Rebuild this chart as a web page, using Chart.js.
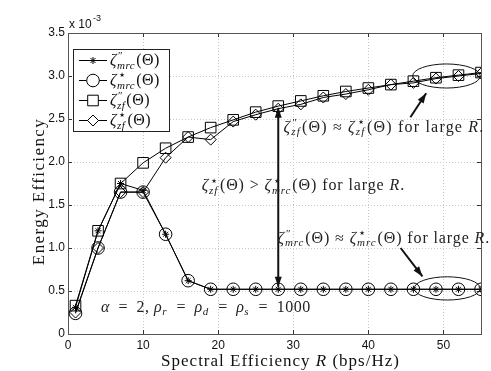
<!DOCTYPE html>
<html>
<head>
<meta charset="utf-8">
<script src="https://cdn.jsdelivr.net/npm/chart.js@4.4.1/dist/chart.umd.min.js"></script>
<style>
  html, body { margin: 0; padding: 0; background: #fff; }
  canvas { display: block; }
</style>
</head>
<body>
<canvas id="eeChart" width="491" height="371"></canvas>
<script>
// Spectral efficiency R (bps/Hz)
const rValues = [1, 4, 7, 10, 13, 16, 19, 22, 25, 28, 31, 34, 37, 40, 43, 46, 49, 52, 55];

// Energy efficiency, in units of 1e-3
const mrcDoublePrime = [0.31, 1.20, 1.75, 1.67, 1.16, 0.62, 0.52, 0.52, 0.52, 0.52, 0.52, 0.52, 0.52, 0.52, 0.52, 0.52, 0.52, 0.52, 0.52];
const mrcStar = [0.24, 1.00, 1.65, 1.65, 1.16, 0.62, 0.52, 0.52, 0.52, 0.52, 0.52, 0.52, 0.52, 0.52, 0.52, 0.52, 0.52, 0.52, 0.52];
const zfDoublePrime = [0.33, 1.20, 1.75, 1.99, 2.16, 2.29, 2.40, 2.49, 2.58, 2.65, 2.71, 2.77, 2.82, 2.86, 2.90, 2.94, 2.98, 3.01, 3.04];
const zfStar = [0.25, 1.00, 1.65, 1.65, 2.05, 2.29, 2.26, 2.47, 2.55, 2.62, 2.67, 2.75, 2.79, 2.84, 2.90, 2.92, 2.97, 3.00, 3.03];

const xTicks = [0, 10, 20, 30, 40, 50];
const yTicks = [0, 0.5, 1, 1.5, 2, 2.5, 3, 3.5];

const SERIF = '"Liberation Serif", "DejaVu Serif", serif';
const SANS = '"Liberation Sans", Arial, sans-serif';

// math-ish label pieces: [text, italic] or {sup, sub}
const zeta = (sup, sub) => [['ζ', true], { sup: sup, sub: sub }, ['(Θ)', false]];
const forLargeR = [[' for large ', false], ['R', true], ['.', false]];
const EQ = '\u2002=\u2002';

const legendLabels = [
    zeta('″', 'mrc'),
    zeta('⋆', 'mrc'),
    zeta('″', 'zf'),
    zeta('⋆', 'zf')
];

const xTitle = [['Spectral Efficiency ', false], ['R', true], [' (bps/Hz)', false]];
const yTitle = [['Energy Efficiency', false]];

// annotations, anchored in data coordinates
const notes = [
    { x: 28.7, y: 2.35, sp: 1.2, parts: [...zeta('″', 'zf'), [' ≈ ', false], ...zeta('⋆', 'zf'), ...forLargeR] },
    { x: 17.8, y: 1.67, sp: 0.9, parts: [...zeta('⋆', 'zf'), [' > ', false], ...zeta('⋆', 'mrc'), ...forLargeR] },
    { x: 27.9, y: 1.06, sp: 0.9, parts: [...zeta('″', 'mrc'), [' ≈ ', false], ...zeta('⋆', 'mrc'), ...forLargeR] },
    { x: 4.4, y: 0.26, sp: 0.5, parts: [['α', true], [EQ + '2, ', false], ['ρ', true], { sub: 'r' }, [EQ, false],
        ['ρ', true], { sub: 'd' }, [EQ, false], ['ρ', true], { sub: 's' }, [EQ + '1000', false]] }
];
const arrows = [
    { from: [28, 2.63], to: [28, 0.55], both: true },
    { from: [45.6, 2.52], to: [47.7, 2.80] },
    { from: [44.3, 1.00], to: [47.2, 0.67] }
];
const ellipses = [
    { x: 50.4, y: 3.00, rx: 4.5, ry: 0.14 },
    { x: 50.5, y: 0.53, rx: 4.4, ry: 0.135 }
];

function mathFont(size, italic) {
    return (italic ? 'italic ' : '') + size + 'px ' + SERIF;
}

// draws a run of pieces, returns its width
function drawMath(ctx, parts, x, y, size, spacing, measureOnly) {
    let cx = x;
    ctx.letterSpacing = (spacing || 0) + 'px';
    parts.forEach(p => {
        if (Array.isArray(p)) {
            ctx.font = mathFont(size, p[1]);
            if (!measureOnly) ctx.fillText(p[0], cx, y);
            cx += ctx.measureText(p[0]).width;
        } else {
            const s = Math.round(size * 0.7);
            let w = 0;
            if (p.sup) {
                ctx.font = mathFont(p.sup === '⋆' ? s + 2 : s, false);
                if (!measureOnly) ctx.fillText(p.sup, cx + 1, y - size * 0.36);
                w = Math.max(w, ctx.measureText(p.sup).width + 1);
            }
            if (p.sub) {
                ctx.font = mathFont(s, true);
                if (!measureOnly) ctx.fillText(p.sub, cx, y + size * 0.22);
                w = Math.max(w, ctx.measureText(p.sub).width);
            }
            cx += w + 1;
        }
    });
    ctx.letterSpacing = '0px';
    return cx - x;
}

function arrowHead(ctx, x0, y0, x1, y1) {
    const a = Math.atan2(y1 - y0, x1 - x0);
    const len = 10, half = 3.5;
    ctx.beginPath();
    ctx.moveTo(x1, y1);
    ctx.lineTo(x1 - len * Math.cos(a) + half * Math.sin(a), y1 - len * Math.sin(a) - half * Math.cos(a));
    ctx.lineTo(x1 - len * Math.cos(a) - half * Math.sin(a), y1 - len * Math.sin(a) + half * Math.cos(a));
    ctx.closePath();
    ctx.fill();
}

function makeDataset(data, style, radius) {
    return {
        data: rValues.map((r, i) => ({ x: r, y: data[i] })),
        borderColor: '#000',
        backgroundColor: 'rgba(0,0,0,0)',
        borderWidth: 1,
        pointStyle: style,
        pointRadius: radius,
        pointBorderColor: '#000',
        pointBorderWidth: 1,
        pointBackgroundColor: 'rgba(0,0,0,0)',
        tension: 0
    };
}

const datasets = [
    makeDataset(mrcDoublePrime, 'star', 3.5),
    makeDataset(mrcStar, 'circle', 6.3),
    makeDataset(zfDoublePrime, 'rect', 7.5),
    makeDataset(zfStar, 'rectRot', 5.5)
];

// Box, inward ticks, axis titles, exponent, annotations and legend
const decorations = {
    id: 'decorations',
    beforeDatasetsDraw(chart) {
        const { ctx, chartArea: a } = chart;
        ctx.save();
        ctx.strokeStyle = '#333';
        ctx.lineWidth = 1;
        ctx.beginPath();
        xTicks.forEach(v => {
            const px = Math.round(chart.scales.x.getPixelForValue(v)) + 0.5;
            ctx.moveTo(px, a.bottom); ctx.lineTo(px, a.bottom - 4);
            ctx.moveTo(px, a.top); ctx.lineTo(px, a.top + 4);
        });
        yTicks.forEach(v => {
            const py = Math.round(chart.scales.y.getPixelForValue(v)) + 0.5;
            ctx.moveTo(a.left, py); ctx.lineTo(a.left + 4, py);
            ctx.moveTo(a.right, py); ctx.lineTo(a.right - 4, py);
        });
        ctx.stroke();
        ctx.strokeStyle = '#555';
        ctx.strokeRect(Math.round(a.left) + 0.5, Math.round(a.top) + 0.5,
            Math.round(a.right - a.left), Math.round(a.bottom - a.top));

        // axis titles
        ctx.fillStyle = '#111';
        ctx.textBaseline = 'alphabetic';
        const tw = drawMath(ctx, xTitle, 0, 0, 17, 1, true);
        drawMath(ctx, xTitle, (a.left + a.right) / 2 + 6 - tw / 2, 366, 17, 1);
        ctx.save();
        ctx.translate(44, (a.top + a.bottom) / 2 + 8);
        ctx.rotate(-Math.PI / 2);
        const yw = drawMath(ctx, yTitle, 0, 0, 17, 1.4, true);
        drawMath(ctx, yTitle, -yw / 2, 0, 17, 1.4);
        ctx.restore();
        ctx.restore();
    },
    afterDatasetsDraw(chart) {
        const { ctx, chartArea: a, scales: { x, y } } = chart;
        ctx.save();
        ctx.fillStyle = '#111';
        ctx.strokeStyle = '#111';

        // x 10^-3
        ctx.font = '12px ' + SANS;
        ctx.textBaseline = 'alphabetic';
        ctx.fillText('x 10', a.left + 1, a.top - 5);
        ctx.font = '9px ' + SANS;
        ctx.fillText('-3', a.left + 25, a.top - 12);

        // ellipses
        ctx.lineWidth = 1;
        ellipses.forEach(e => {
            const cx = x.getPixelForValue(e.x), cy = y.getPixelForValue(e.y);
            const rx = x.getPixelForValue(e.x + e.rx) - cx;
            const ry = cy - y.getPixelForValue(e.y + e.ry);
            ctx.beginPath();
            ctx.ellipse(cx, cy, rx, ry, 0, 0, Math.PI * 2);
            ctx.stroke();
        });

        // arrows
        ctx.lineWidth = 2;
        arrows.forEach(ar => {
            const x0 = x.getPixelForValue(ar.from[0]), y0 = y.getPixelForValue(ar.from[1]);
            const x1 = x.getPixelForValue(ar.to[0]), y1 = y.getPixelForValue(ar.to[1]);
            ctx.beginPath();
            ctx.moveTo(x0, y0); ctx.lineTo(x1, y1);
            ctx.stroke();
            arrowHead(ctx, x0, y0, x1, y1);
            if (ar.both) arrowHead(ctx, x1, y1, x0, y0);
        });

        // text notes
        ctx.fillStyle = '#222';
        notes.forEach(n => {
            drawMath(ctx, n.parts, x.getPixelForValue(n.x), y.getPixelForValue(n.y), 16, n.sp);
        });

        // legend
        const lx = 73, ly = 49, lw = 96, lh = 82;
        ctx.fillStyle = '#fff';
        ctx.fillRect(lx, ly, lw, lh);
        ctx.lineWidth = 1;
        ctx.strokeStyle = '#222';
        ctx.strokeRect(lx + 0.5, ly + 0.5, lw, lh);
        legendLabels.forEach((parts, i) => {
            const ey = ly + 11 + i * 20;
            const ds = datasets[i];
            ctx.strokeStyle = '#000';
            ctx.beginPath();
            ctx.moveTo(lx + 6, ey + 0.5); ctx.lineTo(lx + 34, ey + 0.5);
            ctx.stroke();
            ctx.fillStyle = '#fff';
            Chart.helpers.drawPoint(ctx, {
                pointStyle: ds.pointStyle, radius: ds.pointRadius, borderWidth: 1, rotation: 0
            }, lx + 20, ey + 0.5);
            ctx.fillStyle = '#111';
            drawMath(ctx, parts, lx + 37, ey + 5, 16, 0.5);
        });
        ctx.restore();
    }
};

const ctx = document.getElementById('eeChart').getContext('2d');
new Chart(ctx, {
    type: 'line',
    data: { datasets: datasets },
    options: {
        responsive: false,
        animation: false,
        devicePixelRatio: 1,
        layout: { padding: { top: 33, right: 10, left: 0, bottom: 0 } },
        plugins: { legend: { display: false }, tooltip: { enabled: false } },
        scales: {
            x: {
                type: 'linear',
                min: 0,
                max: 55,
                afterBuildTicks: s => { s.ticks = xTicks.map(v => ({ value: v })); },
                afterFit: s => { s.height = 37; },
                grid: { color: '#c8c8c8', drawTicks: false },
                border: { display: false, dash: [1, 2] },
                ticks: { color: '#111', padding: 4, font: { family: SANS, size: 12 }, maxRotation: 0 }
            },
            y: {
                min: 0,
                max: 3.5,
                afterBuildTicks: s => { s.ticks = yTicks.map(v => ({ value: v })); },
                afterFit: s => { s.width = 68; },
                grid: { color: '#c8c8c8', drawTicks: false },
                border: { display: false, dash: [1, 2] },
                ticks: { color: '#111', padding: 3, font: { family: SANS, size: 12 } }
            }
        }
    },
    plugins: [decorations]
});
</script>
</body>
</html>
